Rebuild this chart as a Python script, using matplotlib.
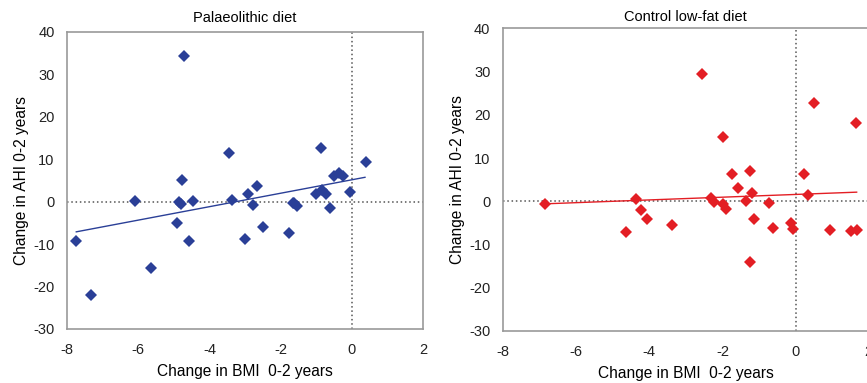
import matplotlib
matplotlib.use("Agg")
import matplotlib.pyplot as plt

# Palaeolithic diet: change in BMI vs change in AHI (0-2 years)
paleo_bmi = [-7.74, -7.33, -6.10, -5.63, -4.71, -4.76, -4.85, -4.79, -4.46, -4.90,
             -4.58, -3.46, -3.37, -2.93, -2.78, -2.65, -3.01, -2.50, -1.76, -1.65,
             -1.62, -1.55, -0.87, -1.00, -0.84, -0.72, -0.60, -0.51, -0.35, -0.26,
             -0.04, 0.39]
paleo_ahi = [-9.3, -22.1, 0.1, -15.7, 34.3, 5.0, -0.1, -0.5, 0.1, -5.1,
             -9.3, 11.4, 0.5, 1.7, -0.7, 3.6, -8.7, -5.9, -7.3, -0.3,
             -0.2, -0.9, 12.6, 1.9, 2.7, 1.7, -1.6, 6.0, 6.85, 6.0,
             2.2, 9.4]
paleo_fit_x = [-7.74, 0.37]
paleo_fit_y = [-7.1, 5.75]

# Control low-fat diet
ctrl_bmi = [-6.85, -4.64, -4.36, -4.22, -4.07, -3.37, -2.56, -2.30, -2.23, -1.97,
            -1.97, -1.90, -1.73, -1.56, -1.35, -1.25, -1.18, -1.14, -1.25, -0.72,
            -0.62, -0.13, -0.06, 0.24, 0.33, 0.50, 0.94, 1.52, 1.68, 1.65]
ctrl_ahi = [-0.55, -7.2, 0.45, -2.0, -4.0, -5.6, 29.5, 0.75, -0.1, 14.9,
            -0.55, -1.8, 6.2, 3.0, 0.1, 7.0, 1.8, -4.2, -14.1, -0.5,
            -6.2, -4.95, -6.5, 6.2, 1.45, 22.8, -6.7, -7.0, -6.7, 18.2]
ctrl_fit_x = [-6.85, 1.67]
ctrl_fit_y = [-0.6, 2.1]

plt.rcParams['font.family'] = ['Liberation Sans', 'DejaVu Sans']
plt.rcParams['axes.unicode_minus'] = False

fig = plt.figure(figsize=(8.67, 3.83), dpi=100)
ax1 = fig.add_axes([0.0773, 0.141, 0.4106, 0.7755])
ax2 = fig.add_axes([0.580, 0.136, 0.422, 0.790])


def style_panel(ax, title, x, y, fx, fy, color, title_pad):
    ax.axhline(0, color='#555555', linestyle=(0, (1, 1.8)), linewidth=1.1, zorder=1)
    ax.axvline(0, color='#555555', linestyle=(0, (1, 1.8)), linewidth=1.1, zorder=1)
    ax.plot(fx, fy, color=color, linewidth=1.0, zorder=2)
    ax.plot(x, y, linestyle='none', marker='D', markersize=6.3, color=color,
            markeredgewidth=0, zorder=3)
    ax.set_xlim(-8, 2)
    ax.set_ylim(-30, 40)
    ax.set_xticks([-8, -6, -4, -2, 0, 2])
    ax.set_yticks(range(-30, 41, 10))
    ax.tick_params(length=0, labelsize=10.5, colors='#222222')
    ax.tick_params(axis='x', pad=10)
    ax.tick_params(axis='y', pad=9)
    for s in ax.spines.values():
        s.set_color('#999999')
        s.set_linewidth(1.2)
    ax.set_title(title, fontsize=10.5, pad=title_pad)
    ax.set_xlabel('Change in BMI  0-2 years', fontsize=11.2, labelpad=5)
    ax.set_ylabel('Change in AHI 0-2 years', fontsize=11.2, labelpad=3)


style_panel(ax1, 'Palaeolithic diet', paleo_bmi, paleo_ahi, paleo_fit_x, paleo_fit_y, '#2A3F97', 7)
style_panel(ax2, 'Control low-fat diet', ctrl_bmi, ctrl_ahi, ctrl_fit_x, ctrl_fit_y, '#E31E24', 5)

fig.savefig('out.png', dpi=100)
